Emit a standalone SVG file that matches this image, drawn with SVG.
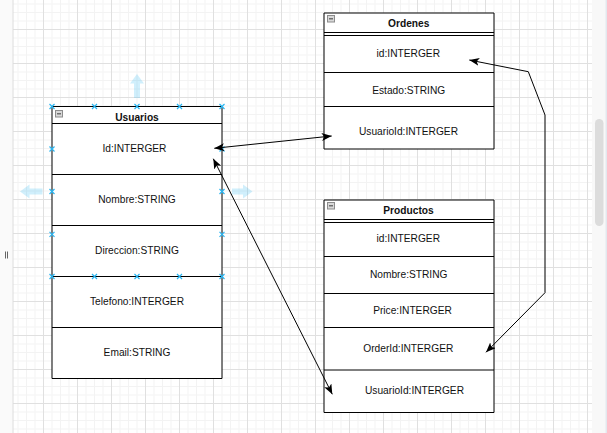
<svg xmlns="http://www.w3.org/2000/svg" width="607" height="433" viewBox="0 0 607 433">
<defs>
<pattern id="grid" x="9" y="29" width="34" height="34" patternUnits="userSpaceOnUse">
<rect x="8.5" y="0" width="1" height="34" fill="#f3f3f3"/>
<rect x="17" y="0" width="1" height="34" fill="#f3f3f3"/>
<rect x="25.5" y="0" width="1" height="34" fill="#f3f3f3"/>
<rect x="0" y="8.5" width="34" height="1" fill="#f3f3f3"/>
<rect x="0" y="17" width="34" height="1" fill="#f3f3f3"/>
<rect x="0" y="25.5" width="34" height="1" fill="#f3f3f3"/>
<rect x="0" y="0" width="1" height="34" fill="#e0e0e0"/>
<rect x="0" y="0" width="34" height="1" fill="#e0e0e0"/>
</pattern>
<marker id="arr" viewBox="0 0 10 8" refX="10" refY="4" markerWidth="10" markerHeight="8" markerUnits="userSpaceOnUse" orient="auto-start-reverse">
<path d="M0,0 L10,4 L0,8 L2.5,4 Z" fill="#000"/>
</marker>
<g id="xm">
<path d="M-2.5,-2.5 L2.5,2.5 M-2.5,2.5 L2.5,-2.5" stroke="#29b6f2" stroke-width="1.2" fill="none"/>
</g>
<g id="ico">
<rect x="0.5" y="0.5" width="7" height="6.5" fill="#d8d8d8" stroke="#8c8c8c" stroke-width="1"/>
<rect x="2" y="3.2" width="4" height="1.2" fill="#555"/>
</g>
</defs>
<style>
.t{font-family:"Liberation Sans",Arial,sans-serif;font-size:10.2px;fill:#111;text-anchor:middle}
.h{font-weight:bold}
.box{fill:#fff}
.ln{stroke:#000;stroke-width:1;fill:none}
.con{stroke:#000;stroke-width:1;fill:none;marker-start:url(#arr);marker-end:url(#arr)}
.hint{fill:#29b6f2;opacity:0.22}
</style>
<rect x="0" y="0" width="607" height="433" fill="#fff"/>
<rect x="13" y="0" width="579" height="433" fill="url(#grid)"/>
<rect x="0" y="0" width="12.5" height="433" fill="#fafafa"/>
<rect x="12.5" y="0" width="1" height="433" fill="#dcdcdc"/>
<path d="M5.5,251.5 V258.5 M7.5,251.5 V258.5" stroke="#666" stroke-width="1"/>
<rect x="592" y="0" width="15" height="433" fill="#f8f8f8"/>
<rect x="595" y="119" width="8.5" height="107" rx="4.2" fill="#dcdcdc"/>
<rect x="605.5" y="0" width="1.5" height="433" fill="#e3e8ee"/>

<g id="hover-arrows">
<path class="hint" d="M137,74 L144,83.5 L140,83.5 L140,98 L134,98 L134,83.5 L130,83.5 Z"/>
<path class="hint" d="M20,191.5 L29.5,184.5 L29.5,188.5 L42.5,188.5 L42.5,194.5 L29.5,194.5 L29.5,198.5 Z"/>
<path class="hint" d="M252.5,191.5 L243,184.5 L243,188.5 L232,188.5 L232,194.5 L243,194.5 L243,198.5 Z"/>
</g>

<g id="usuarios">
<rect class="box" x="52" y="106.5" width="170" height="272"/>
<path class="ln" d="M52,106.5 V378.5 M222,106.5 V378.5 M52,106.5 H222 M52,378.5 H222 M52,123.5 H222 M52,174.5 H222 M52,225.5 H222 M52,276.5 H222 M52,327.5 H222"/>
<use href="#ico" x="55" y="110"/>
<text class="t h" x="137" y="120.5">Usuarios</text>
<text class="t" x="134.5" y="152">Id:INTERGER</text>
<text class="t" x="137" y="203.4">Nombre:STRING</text>
<text class="t" x="137" y="254.4">Direccion:STRING</text>
<text class="t" x="137" y="305.4">Telefono:INTERGER</text>
<text class="t" x="137" y="356.4">Email:STRING</text>
</g>

<g id="ordenes">
<rect class="box" x="324" y="13" width="170" height="136"/>
<path class="ln" d="M324,13 V149 M494,13 V149 M324,13 H494 M324,149 H494 M324,32.5 H494 M324,35.5 H494 M324,72.5 H494 M324,106.5 H494"/>
<use href="#ico" x="327" y="15"/>
<text class="t h" x="408.7" y="27.2">Ordenes</text>
<text class="t" x="408.3" y="57.2">id:INTERGER</text>
<text class="t" x="408.7" y="93.7">Estado:STRING</text>
<text class="t" x="408.5" y="135.4">UsuarioId:INTERGER</text>
</g>

<g id="productos">
<rect class="box" x="324" y="200" width="170" height="212.5"/>
<path class="ln" d="M324,200 V412.5 M494,200 V412.5 M324,200 H494 M324,412.5 H494 M324,219.5 H494 M324,222.5 H494 M324,256.5 H494 M324,293.5 H494 M324,327.5 H494 M324,370 H494"/>
<use href="#ico" x="327" y="202"/>
<text class="t h" x="408.5" y="214.4">Productos</text>
<text class="t" x="408.3" y="242.4">id:INTERGER</text>
<text class="t" x="408.7" y="278.4">Nombre:STRING</text>
<text class="t" x="412.5" y="313.7">Price:INTERGER</text>
<text class="t" x="408.3" y="352">OrderId:INTERGER</text>
<text class="t" x="414.5" y="394.4">UsuarioId:INTERGER</text>
</g>

<g id="handles">
<use href="#xm" x="52" y="106.5"/><use href="#xm" x="94.5" y="106.5"/><use href="#xm" x="137" y="106.5"/><use href="#xm" x="179.5" y="106.5"/><use href="#xm" x="222" y="106.5"/>
<use href="#xm" x="52" y="149"/><use href="#xm" x="222" y="149"/>
<use href="#xm" x="52" y="191.5"/><use href="#xm" x="222" y="191.5"/>
<use href="#xm" x="52" y="234.3"/><use href="#xm" x="222" y="234.3"/>
<use href="#xm" x="52" y="276.5"/><use href="#xm" x="94.5" y="276.5"/><use href="#xm" x="137" y="276.5"/><use href="#xm" x="179.5" y="276.5"/><use href="#xm" x="222" y="276.5"/>
</g>

<g id="connectors">
<path class="con" d="M214.3,148.3 L331.7,136"/>
<path class="con" d="M213.3,158.7 L332.3,394.3"/>
<path class="con" d="M469.3,60 L528.3,71.7 L545,115 L545,292.7 L486,352.3"/>
</g>
</svg>
